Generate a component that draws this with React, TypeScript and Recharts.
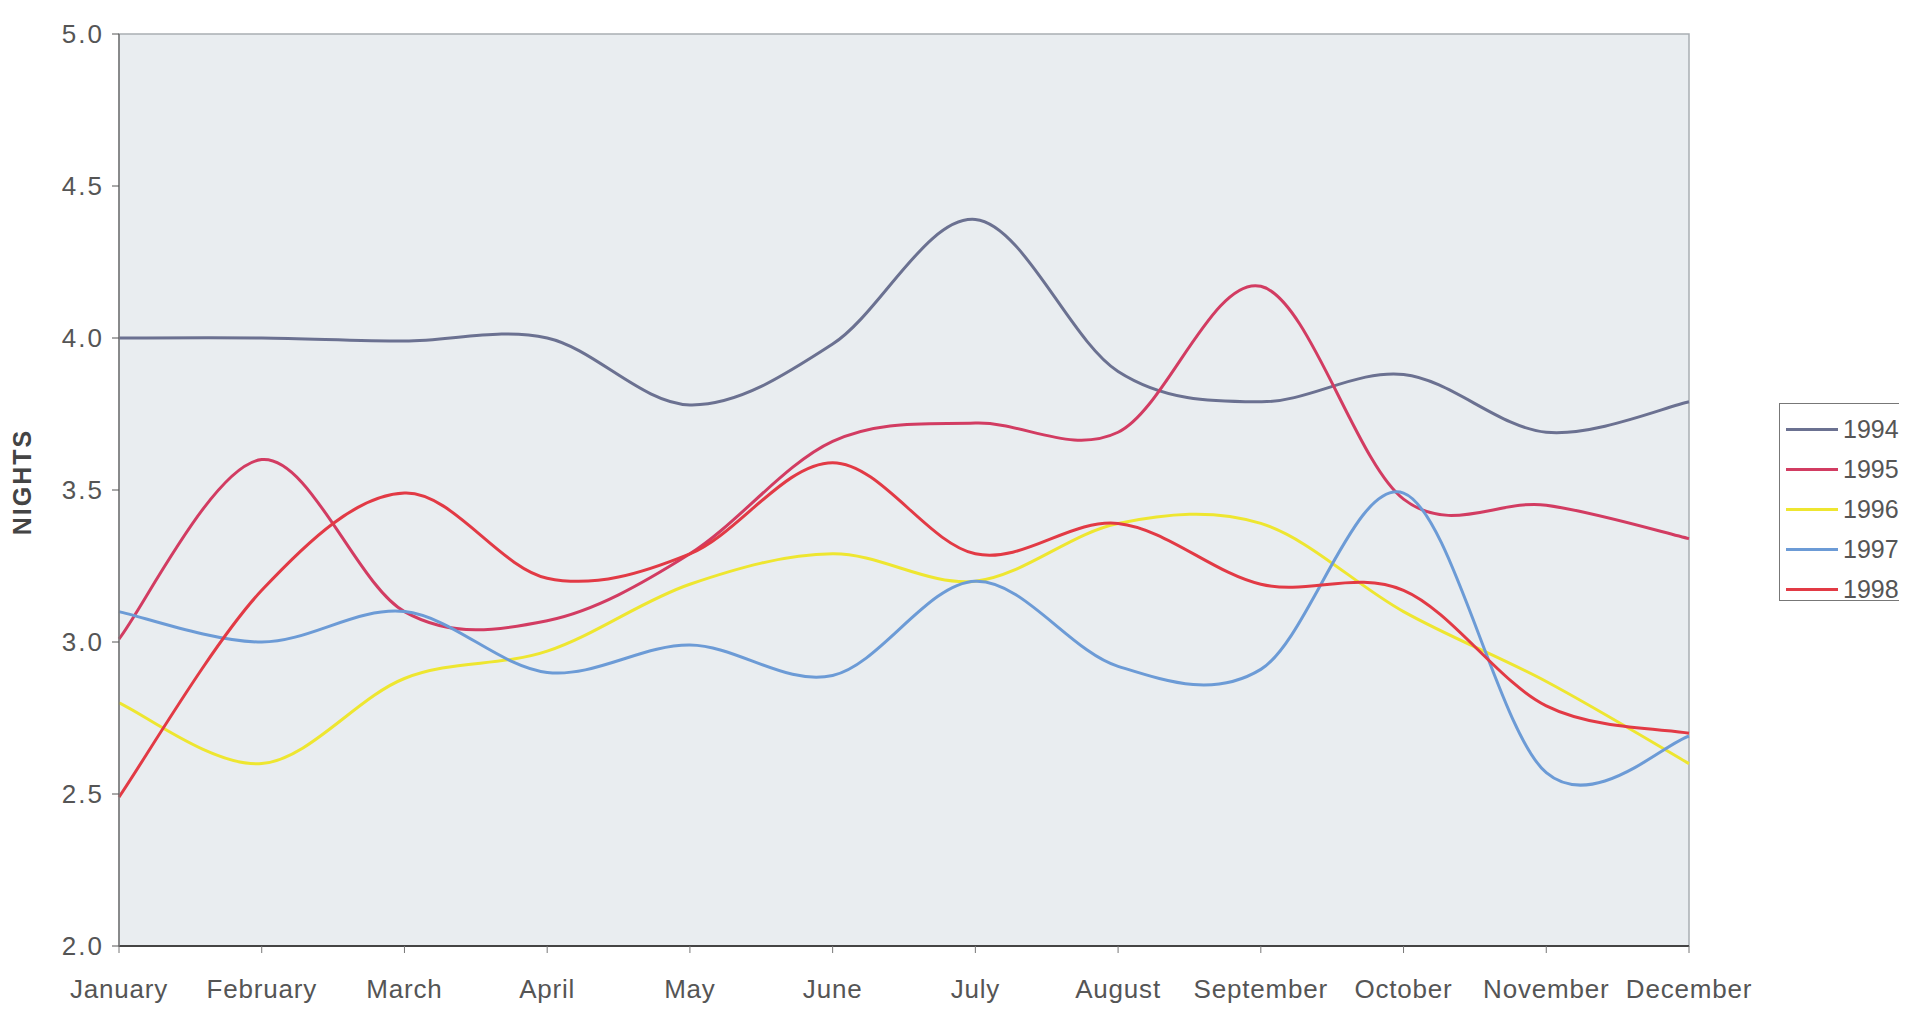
import React from "react";
import {
  Legend,
  Line,
  LineChart,
  ReferenceArea,
  XAxis,
  YAxis,
} from "recharts";

// values (nights per stay)
const months = [
  "January",
  "February",
  "March",
  "April",
  "May",
  "June",
  "July",
  "August",
  "September",
  "October",
  "November",
  "December",
];
const y1994 = [4.0, 4.0, 3.99, 4.0, 3.78, 3.98, 4.39, 3.89, 3.79, 3.88, 3.69, 3.79];
const y1995 = [3.01, 3.6, 3.1, 3.07, 3.29, 3.66, 3.72, 3.69, 4.17, 3.47, 3.45, 3.34];
const y1996 = [2.8, 2.6, 2.88, 2.97, 3.19, 3.29, 3.2, 3.39, 3.39, 3.1, 2.87, 2.6];
const y1997 = [3.1, 3.0, 3.1, 2.9, 2.99, 2.89, 3.2, 2.92, 2.91, 3.49, 2.57, 2.69];
const y1998 = [2.49, 3.17, 3.49, 3.21, 3.29, 3.59, 3.29, 3.39, 3.19, 3.17, 2.79, 2.7];
const yTicks = [2.0, 2.5, 3.0, 3.5, 4.0, 4.5, 5.0];

const series = [
  { key: "1994", values: y1994, color: "#6b7191" },
  { key: "1995", values: y1995, color: "#d23c62" },
  { key: "1996", values: y1996, color: "#eee630" },
  { key: "1997", values: y1997, color: "#6c9bd6" },
  { key: "1998", values: y1998, color: "#e23a45" },
];

const data = months.map((m, i) => {
  const row: any = { month: m };
  series.forEach((s) => (row[s.key] = s.values[i]));
  return row;
});

const FONT = "'Liberation Sans', Arial, sans-serif";
const TEXT = "#555";

// excel-like smoothed line (catmull-rom through every point)
const excelSmooth: any = (ctx: any) => {
  let pts: number[][] = [];
  return {
    areaStart() {},
    areaEnd() {},
    lineStart() {
      pts = [];
    },
    point(x: number, y: number) {
      pts.push([+x, +y]);
    },
    lineEnd() {
      if (!pts.length) return;
      ctx.moveTo(pts[0][0], pts[0][1]);
      for (let i = 0; i < pts.length - 1; i++) {
        const p0 = pts[i - 1] || pts[i];
        const p1 = pts[i];
        const p2 = pts[i + 1];
        const p3 = pts[i + 2] || p2;
        ctx.bezierCurveTo(
          p1[0] + (p2[0] - p0[0]) / 6,
          p1[1] + (p2[1] - p0[1]) / 6,
          p2[0] - (p3[0] - p1[0]) / 6,
          p2[1] - (p3[1] - p1[1]) / 6,
          p2[0],
          p2[1]
        );
      }
    },
  };
};

const LegendBox = () => (
  <div
    style={{
      width: 128,
      height: 198,
      border: "1px solid #777",
      background: "#fff",
      boxSizing: "border-box",
      paddingTop: 5,
      fontFamily: FONT,
    }}
  >
    {series.map((s) => (
      <div
        key={s.key}
        style={{ display: "flex", alignItems: "center", height: 40 }}
      >
        <div
          style={{
            width: 52,
            height: 3,
            background: s.color,
            marginLeft: 6,
            marginRight: 5,
          }}
        />
        <span style={{ fontSize: 25, color: TEXT }}>{s.key}</span>
      </div>
    ))}
  </div>
);

const NightsLabel = ({ viewBox }: any) => {
  const cy = viewBox ? viewBox.y + viewBox.height / 2 - 8 : 474;
  return (
    <text
      x={14}
      y={cy}
      transform={`rotate(-90, 14, ${cy})`}
      textAnchor="middle"
      dominantBaseline="central"
      fontFamily={FONT}
      fontWeight="bold"
      fontSize={25}
      letterSpacing={2}
      fill="#444"
    >
      NIGHTS
    </text>
  );
};

export default function App() {
  return (
    <div style={{ width: 1899, height: 1000, background: "#fff" }}>
      <LineChart
        width={1899}
        height={1000}
        data={data}
        margin={{ top: 26, right: 218, bottom: 12, left: 41 }}
      >
        <ReferenceArea
          x1="January"
          x2="December"
          y1={2}
          y2={5}
          fill="#e9edf0"
          fillOpacity={1}
          stroke="#a9aeb3"
          strokeWidth={1.5}
        />
        <XAxis
          dataKey="month"
          interval={0}
          height={50}
          tickSize={7}
          tickMargin={27}
          axisLine={{ stroke: "#444", strokeWidth: 2 }}
          tickLine={{ stroke: "#777" }}
          tick={{ fill: TEXT, fontSize: 26, fontFamily: FONT, letterSpacing: 0.8 }}
        />
        <YAxis
          domain={[2, 5]}
          ticks={yTicks}
          width={70}
          tickSize={7}
          tickMargin={8}
          tickFormatter={(v: number) => v.toFixed(1)}
          axisLine={{ stroke: "#777", strokeWidth: 1.5 }}
          tickLine={{ stroke: "#555" }}
          tick={{ fill: TEXT, fontSize: 26, fontFamily: FONT, letterSpacing: 2 }}
          label={<NightsLabel />}
        />
        {series.map((s) => (
          <Line
            key={s.key}
            dataKey={s.key}
            type={excelSmooth}
            stroke={s.color}
            strokeWidth={3}
            dot={false}
            activeDot={false}
            isAnimationActive={false}
          />
        ))}
        <Legend
          layout="vertical"
          align="center"
          verticalAlign="middle"
          content={<LegendBox />}
          wrapperStyle={{ left: 1771, top: 395, width: 128, height: 198 }}
        />
      </LineChart>
    </div>
  );
}
